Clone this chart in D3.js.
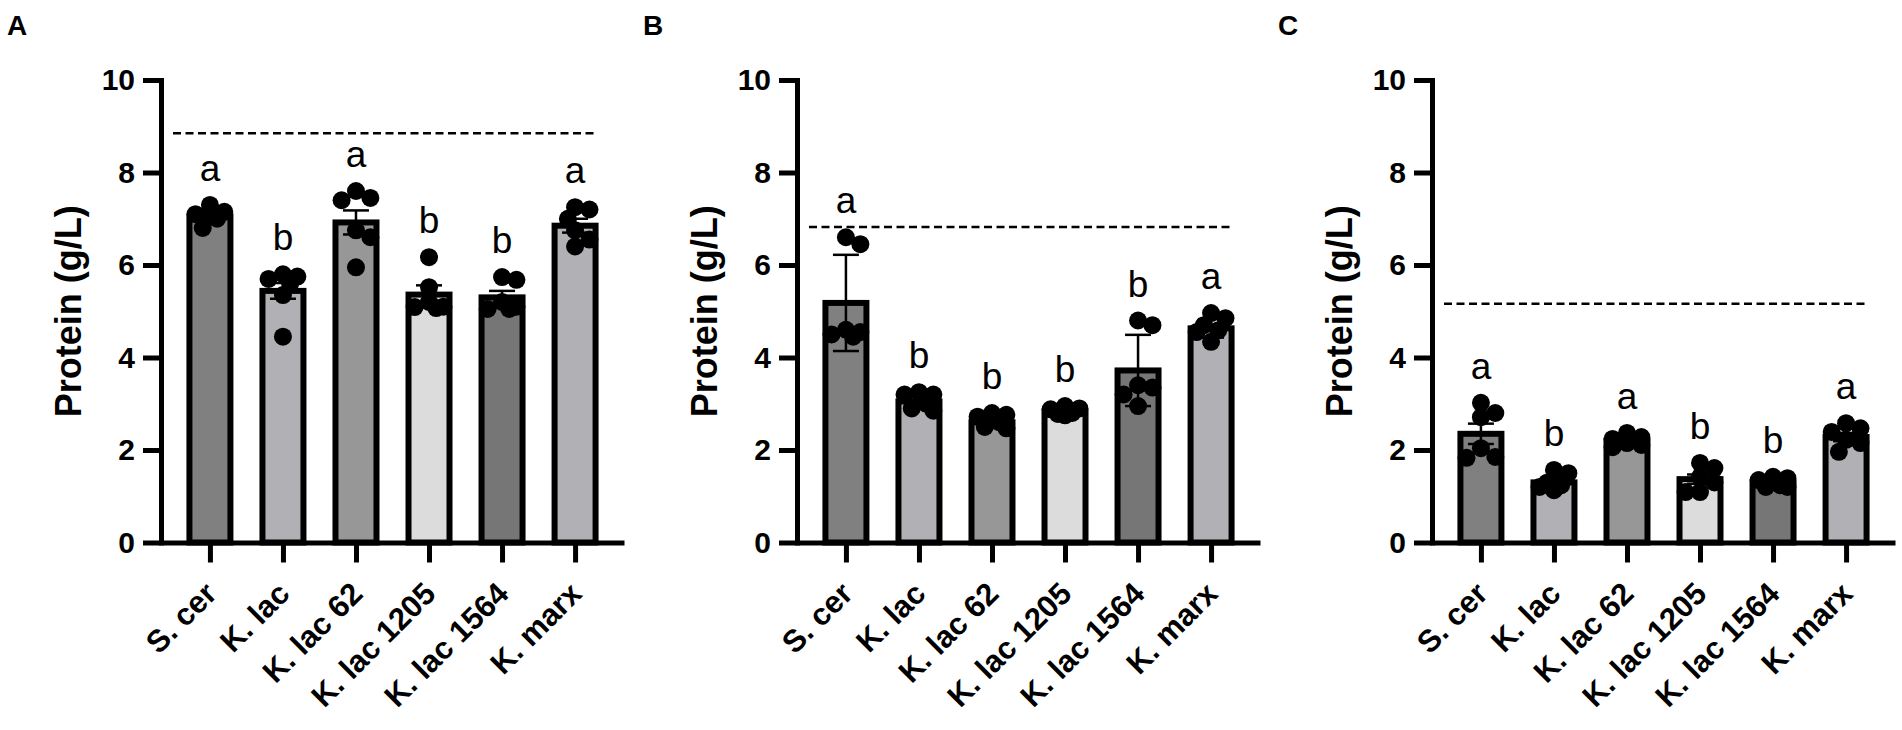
<!DOCTYPE html>
<html>
<head>
<meta charset="utf-8">
<script src="https://cdn.jsdelivr.net/npm/d3@7"></script>
<style>
	body { margin: 0; background: #fff; }
	text { font-family: "Liberation Sans", Arial, sans-serif; }
</style>
</head>
<body>
<svg id="chart" width="1902" height="730"></svg>
<script>

// ---------- data ----------
var categories = ["S. cer", "K. lac", "K. lac 62", "K. lac 1205", "K. lac 1564", "K. marx"];
var panelLabels = ["A", "B", "C"];
var yTicks = [0, 2, 4, 6, 8, 10];

var meanA = [7.05, 5.44, 6.92, 5.36, 5.3, 6.85];
var errA = [0.07, 0.17, 0.26, 0.2, 0.14, 0.15];
var dotsA = [
	[7.1, 7.15, 7.08, 7.0, 7.3, 6.8],
	[5.7, 5.8, 5.75, 5.6, 5.35, 4.45],
	[7.6, 7.4, 7.45, 6.75, 6.6, 5.95],
	[6.17, 5.52, 5.2, 5.09, 5.07, 5.1],
	[5.68, 5.74, 5.2, 5.05, 5.1, 5.05],
	[7.25, 7.2, 7.0, 6.75, 6.55, 6.4]
];
var lettersA = ["a", "b", "a", "b", "b", "a"];
var refA = 8.85;

var meanB = [5.18, 3.05, 2.6, 2.83, 3.72, 4.63];
var errB = [1.04, 0.15, 0.12, 0.08, 0.77, 0.2];
var dotsB = [
	[6.45, 6.6, 4.55, 4.6, 4.5, 4.45],
	[3.2, 3.25, 3.2, 2.9, 2.85, 3.0],
	[2.8, 2.76, 2.72, 2.5, 2.47, 2.6],
	[2.9, 2.95, 2.88, 2.75, 2.8, 2.78],
	[4.7, 4.8, 3.4, 3.35, 3.2, 2.95],
	[4.85, 4.96, 4.7, 4.59, 4.55, 4.34]
];
var lettersB = ["a", "b", "b", "b", "b", "a"];
var refB = 6.82;

var meanC = [2.35, 1.3, 2.2, 1.37, 1.3, 2.28];
var errC = [0.22, 0.07, 0.05, 0.1, 0.04, 0.09];
var dotsC = [
	[3.02, 2.71, 2.8, 2.04, 1.85, 1.83],
	[1.57, 1.5, 1.29, 1.24, 1.2, 1.13],
	[2.37, 2.28, 2.24, 2.15, 2.11, 2.06],
	[1.61, 1.72, 1.42, 1.09, 1.09, 1.3],
	[1.42, 1.39, 1.35, 1.24, 1.2, 1.2],
	[2.58, 2.47, 2.39, 2.22, 2.15, 1.96]
];
var lettersC = ["a", "b", "a", "b", "b", "a"];
var refC = 5.16;

// ---------- layout ----------
var AXIS_X = [161, 797, 1432],
	Y_TOP = 80,
	Y_BOT = 542.5,
	PLOT_W = 463,
	BAR_W = 41,
	BAR_STROKE = 6,
	AXIS_STROKE = 5,
	DOT_R = 9,
	SWARM_MAX = 18,
	FILLS = ["#808080", "#b1b1b5", "#979797", "#dcdcdc", "#767676", "#b1b1b5"];

var panels = [
	{label: panelLabels[0], mean: meanA, err: errA, dots: dotsA, letters: lettersA, ref: refA},
	{label: panelLabels[1], mean: meanB, err: errB, dots: dotsB, letters: lettersB, ref: refB},
	{label: panelLabels[2], mean: meanC, err: errC, dots: dotsC, letters: lettersC, ref: refC}
];

var svg = d3.select("#chart");

var y = d3.scaleLinear().domain([0, 10]).range([Y_BOT, Y_TOP]);
var x = d3.scalePoint().domain(categories).range([0, PLOT_W]).padding(0.67);

// compact beeswarm, points overlap a fair bit like the prism scatter
function swarm(vals) {
	var placed = [],
		out = new Array(vals.length),
		step = DOT_R * 0.8,
		minD = DOT_R * 1.45,
		offs = [0], k;
	for (k = 1; k * step <= SWARM_MAX; k++) offs.push(k * step, -k * step);

	var order = vals.map(function(v, i) { return i; })
		.sort(function(a, b) { return vals[b] - vals[a]; });

	order.forEach(function(i) {
		var py = y(vals[i]), best = 0, bestD = -1, j, d;
		for (j = 0; j < offs.length; j++) {
			d = d3.min(placed, function(p) { return Math.hypot(p.x - offs[j], p.y - py); });
			if (d === undefined || d >= minD) { best = offs[j]; break; }
			if (d > bestD) { bestD = d; best = offs[j]; }
		}
		out[i] = {x: best, y: py};
		placed.push(out[i]);
	});
	return out;
}

panels.forEach(function(p, pi) {
	var g = svg.append("g")
		.attr("transform", "translate(" + AXIS_X[pi] + ",0)");

	// panel letter
	svg.append("text")
		.attr("x", AXIS_X[pi] - 154)
		.attr("y", 35)
		.attr("font-size", 28)
		.attr("font-weight", "bold")
		.text(p.label);

	// bars
	g.selectAll("rect.bar")
		.data(categories)
		.enter()
		.append("rect")
			.attr("class", "bar")
			.attr("x", function(d) { return x(d) - BAR_W / 2; })
			.attr("y", function(d, i) { return y(p.mean[i]); })
			.attr("width", BAR_W)
			.attr("height", function(d, i) { return y(0) - y(p.mean[i]); })
			.attr("fill", function(d, i) { return FILLS[i]; })
			.attr("stroke", "#000")
			.attr("stroke-width", BAR_STROKE);

	// error bars
	var eb = g.selectAll("g.err")
		.data(categories)
		.enter()
		.append("g")
			.attr("class", "err")
			.attr("stroke", "#000")
			.attr("stroke-width", 2.5);
	eb.append("line")
		.attr("x1", function(d) { return x(d); })
		.attr("x2", function(d) { return x(d); })
		.attr("y1", function(d, i) { return y(p.mean[i] - p.err[i]); })
		.attr("y2", function(d, i) { return y(p.mean[i] + p.err[i]); });
	[-1, 1].forEach(function(s) {
		eb.append("line")
			.attr("x1", function(d) { return x(d) - 13; })
			.attr("x2", function(d) { return x(d) + 13; })
			.attr("y1", function(d, i) { return y(p.mean[i] + s * p.err[i]); })
			.attr("y2", function(d, i) { return y(p.mean[i] + s * p.err[i]); });
	});

	// individual points
	categories.forEach(function(c, i) {
		var pos = swarm(p.dots[i]);
		g.selectAll(null)
			.data(pos)
			.enter()
			.append("circle")
				.attr("cx", function(d) { return x(c) + d.x; })
				.attr("cy", function(d) { return d.y; })
				.attr("r", DOT_R)
				.attr("fill", "#000");
	});

	// significance letters
	g.selectAll("text.sig")
		.data(categories)
		.enter()
		.append("text")
			.attr("class", "sig")
			.attr("x", function(d) { return x(d); })
			.attr("y", function(d, i) {
				var top = Math.max(d3.max(p.dots[i]), p.mean[i] + p.err[i]);
				return y(top) - 24;
			})
			.attr("text-anchor", "middle")
			.attr("font-size", 37)
			.text(function(d, i) { return p.letters[i]; });

	// dashed reference line
	g.append("line")
		.attr("x1", 12)
		.attr("x2", x(categories[categories.length - 1]) + 20)
		.attr("y1", y(p.ref))
		.attr("y2", y(p.ref))
		.attr("stroke", "#000")
		.attr("stroke-width", 2.5)
		.attr("stroke-dasharray", "8,4.5");

	// y axis
	var ya = g.append("g")
		.call(d3.axisLeft(y).tickValues(yTicks).tickSize(18).tickSizeOuter(0).tickPadding(8));
	ya.select(".domain").attr("stroke-width", AXIS_STROKE).attr("stroke-linecap", "square");
	ya.selectAll(".tick line").attr("stroke-width", AXIS_STROKE);
	ya.selectAll(".tick text")
		.attr("font-size", 30)
		.attr("font-weight", "bold")
		.attr("fill", "#000")
		.attr("font-family", null);

	// x axis
	var xa = g.append("g")
		.attr("transform", "translate(0," + Y_BOT + ")")
		.call(d3.axisBottom(x).tickSize(20).tickSizeOuter(0));
	xa.select(".domain").attr("stroke-width", AXIS_STROKE);
	xa.selectAll(".tick line").attr("stroke-width", AXIS_STROKE);
	xa.selectAll(".tick text")
		.attr("font-size", 31)
		.attr("font-weight", "bold")
		.attr("fill", "#000")
		.attr("font-family", null)
		.attr("text-anchor", "end")
		.attr("dy", 0)
		.attr("y", 0)
		.attr("transform", "translate(8,53) rotate(-45)");

	// y axis title
	g.append("text")
		.attr("transform", "translate(-80," + ((Y_TOP + Y_BOT) / 2) + ") rotate(-90)")
		.attr("text-anchor", "middle")
		.attr("font-size", 36)
		.attr("font-weight", "bold")
		.text("Protein (g/L)");
});

</script>
</body>
</html>
